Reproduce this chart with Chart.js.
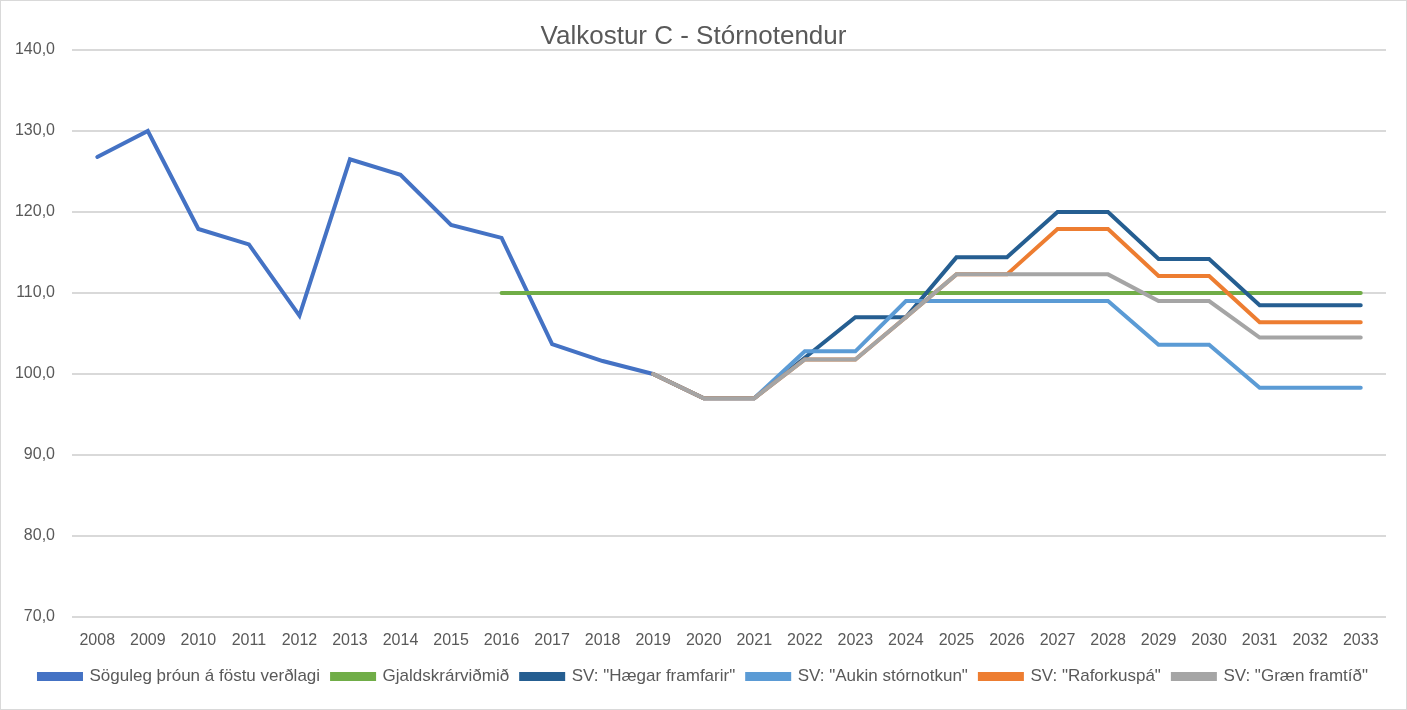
<!DOCTYPE html>
<html>
<head>
<meta charset="utf-8">
<script src="https://cdn.jsdelivr.net/npm/chart.js@4"></script>
<style>
  body { margin: 0; background: #fff; }
  #wrap { width: 1407px; height: 710px; box-sizing: border-box; border: 1px solid #d9d9d9; }
</style>
</head>
<body>
<div id="wrap"><canvas id="chart"></canvas></div>
<script>
// data
const years = ['2008','2009','2010','2011','2012','2013','2014','2015','2016','2017','2018','2019','2020',
  '2021','2022','2023','2024','2025','2026','2027','2028','2029','2030','2031','2032','2033'];

const historical = [126.8, 130.0, 117.9, 116.0, 107.2, 126.5, 124.6, 118.4, 116.8, 103.7, 101.6, 100.0,
  null, null, null, null, null, null, null, null, null, null, null, null, null, null];
const tariffTarget = [null, null, null, null, null, null, null, null, 110, 110, 110, 110, 110,
  110, 110, 110, 110, 110, 110, 110, 110, 110, 110, 110, 110, 110];
const slowProgress = [null, null, null, null, null, null, null, null, null, null, null, 100.0, 97.0,
  97.0, 102.0, 107.0, 107.0, 114.4, 114.4, 120.0, 120.0, 114.2, 114.2, 108.5, 108.5, 108.5];
const moreLargeUse = [null, null, null, null, null, null, null, null, null, null, null, 100.0, 97.0,
  97.0, 102.8, 102.8, 109.0, 109.0, 109.0, 109.0, 109.0, 103.6, 103.6, 98.3, 98.3, 98.3];
const powerForecast = [null, null, null, null, null, null, null, null, null, null, null, 100.0, 97.0,
  97.0, 101.8, 101.8, 107.0, 112.3, 112.3, 117.9, 117.9, 112.1, 112.1, 106.4, 106.4, 106.4];
const greenFuture = [null, null, null, null, null, null, null, null, null, null, null, 100.0, 97.0,
  97.0, 101.8, 101.8, 107.0, 112.3, 112.3, 112.3, 112.3, 109.0, 109.0, 104.5, 104.5, 104.5];

const fontFamily = "'Liberation Sans', Arial, sans-serif";
const textColor = '#595959';

function line(label, data, color) {
  return {
    label: label,
    data: data,
    borderColor: color,
    backgroundColor: color,
    borderWidth: 4,
    pointRadius: 0,
    pointHoverRadius: 0,
    borderCapStyle: 'round',
    borderJoinStyle: 'miter',
    tension: 0,
    fill: false
  };
}

// legend is centred on the whole picture, not on the padded area
const centreLegend = {
  id: 'centreLegend',
  afterLayout(chart) {
    chart.legend.left += 10;
    chart.legend.right += 10;
  }
};

const ctx = document.getElementById('chart').getContext('2d');
new Chart(ctx, {
  type: 'line',
  plugins: [centreLegend],
  data: {
    labels: years,
    datasets: [
      line('Söguleg þróun á föstu verðlagi', historical, '#4472C4'),
      line('Gjaldskrárviðmið', tariffTarget, '#70AD47'),
      line('SV: "Hægar framfarir"', slowProgress, '#255E91'),
      line('SV: "Aukin stórnotkun"', moreLargeUse, '#5B9BD5'),
      line('SV: "Raforkuspá"', powerForecast, '#ED7D31'),
      line('SV: "Græn framtíð"', greenFuture, '#A5A5A5')
    ].map((d, i) => Object.assign(d, { order: -i }))
  },
  options: {
    responsive: true,
    maintainAspectRatio: false,
    animation: false,
    layout: { padding: { left: 0, right: 20, top: 23, bottom: 14 } },
    plugins: {
      title: {
        display: true,
        text: 'Valkostur C - Stórnotendur',
        color: textColor,
        font: { family: fontFamily, size: 26, weight: 'normal', lineHeight: 1.0 },
        padding: { top: 0, bottom: 0 }
      },
      legend: {
        position: 'bottom',
        labels: {
          color: textColor,
          font: { family: fontFamily, size: 17 },
          boxWidth: 42,
          boxHeight: 5,
          padding: 12,
          sort: (a, b) => a.datasetIndex - b.datasetIndex
        }
      },
      tooltip: { enabled: false }
    },
    scales: {
      x: {
        offset: true,
        afterFit: scale => { scale.height = 39; },
        grid: { display: false, drawTicks: false },
        border: { display: false },
        ticks: {
          color: textColor,
          font: { family: fontFamily, size: 16 },
          maxRotation: 0,
          autoSkip: false,
          padding: 14
        }
      },
      y: {
        min: 70,
        max: 140,
        afterFit: scale => { scale.width = 71; },
        grid: { color: '#d9d9d9', lineWidth: 2, drawTicks: false },
        border: { display: false },
        ticks: {
          stepSize: 10,
          color: textColor,
          font: { family: fontFamily, size: 16 },
          padding: 17,
          callback: v => v.toFixed(1).replace('.', ',')
        }
      }
    }
  }
});
</script>
</body>
</html>
